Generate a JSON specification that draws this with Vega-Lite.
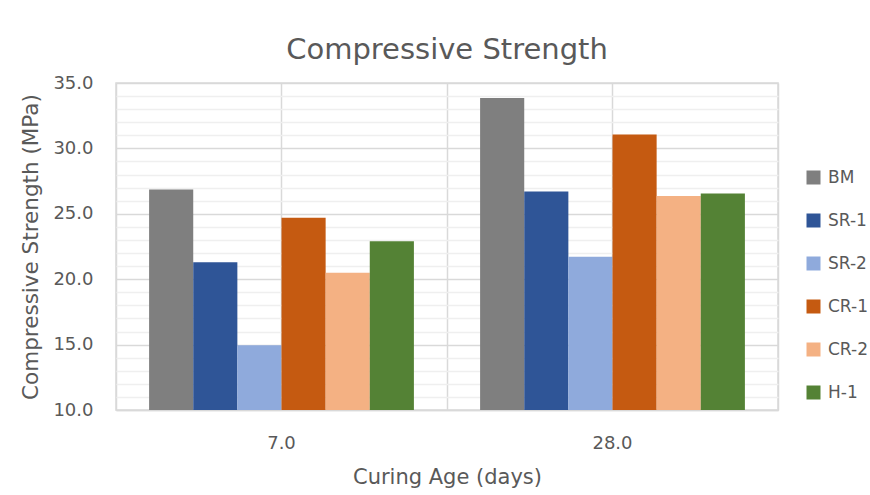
{
  "$schema": "https://vega.github.io/schema/vega-lite/v6.json",
  "width": 662,
  "height": 327,
  "autosize": "none",
  "padding": {"left": 116, "top": 83, "right": 92, "bottom": 85},
  "background": "white",
  "title": {
    "text": "Compressive Strength",
    "font": "DejaVu Sans",
    "fontSize": 29,
    "fontWeight": "normal",
    "color": "#595959",
    "anchor": "middle",
    "baseline": "alphabetic",
    "offset": 12,
    "dy": 26
  },
  "data": {
    "values": [
      {"age": "7.0", "series": "BM", "value": 26.85},
      {"age": "7.0", "series": "SR-1", "value": 21.3},
      {"age": "7.0", "series": "SR-2", "value": 14.95},
      {"age": "7.0", "series": "CR-1", "value": 24.7},
      {"age": "7.0", "series": "CR-2", "value": 20.5},
      {"age": "7.0", "series": "H-1", "value": 22.9},
      {"age": "28.0", "series": "BM", "value": 33.85},
      {"age": "28.0", "series": "SR-1", "value": 26.7},
      {"age": "28.0", "series": "SR-2", "value": 21.72},
      {"age": "28.0", "series": "CR-1", "value": 31.06},
      {"age": "28.0", "series": "CR-2", "value": 26.36},
      {"age": "28.0", "series": "H-1", "value": 26.56}
    ]
  },
  "config": {
    "view": {"stroke": "#d9d9d9", "strokeWidth": 1.5},
    "font": "DejaVu Sans",
    "axis": {
      "labelFont": "DejaVu Sans",
      "titleFont": "DejaVu Sans",
      "labelColor": "#595959",
      "titleColor": "#595959",
      "titleFontWeight": "normal"
    }
  },
  "layer": [
    {
      "mark": {"type": "bar", "opacity": 0},
      "encoding": {
        "x": {
          "field": "age",
          "type": "nominal",
          "sort": ["7.0", "28.0"],
          "scale": {"paddingInner": 0, "paddingOuter": 0},
          "axis": {
            "orient": "top",
            "tickBand": "extent",
            "grid": true,
            "gridColor": "#d9d9d9",
            "gridWidth": 1.5,
            "labels": false,
            "ticks": false,
            "domain": false,
            "title": null
          }
        },
        "y": {
          "field": "value",
          "type": "quantitative",
          "scale": {"domain": [10, 35], "zero": false, "nice": false},
          "axis": {
            "orient": "right",
            "values": [11, 12, 13, 14, 16, 17, 18, 19, 21, 22, 23, 24, 26, 27, 28, 29, 31, 32, 33, 34],
            "grid": true,
            "gridColor": "#efefef",
            "gridWidth": 1.5,
            "labels": false,
            "ticks": false,
            "domain": false,
            "title": null
          }
        },
        "y2": {"datum": 10}
      }
    },
    {
      "mark": {"type": "bar"},
      "encoding": {
        "x": {
          "field": "age",
          "type": "nominal",
          "sort": ["7.0", "28.0"],
          "scale": {"paddingInner": 0, "paddingOuter": 0},
          "axis": {
            "orient": "bottom",
            "title": "Curing Age (days)",
            "titleFontSize": 21,
            "titlePadding": 14,
            "labelFontSize": 18,
            "labelAngle": 0,
            "labelPadding": 24,
            "ticks": false,
            "tickSize": 0,
            "domain": true,
            "domainColor": "#d9d9d9",
            "domainWidth": 1.5,
            "grid": true,
            "gridColor": "#d9d9d9",
            "gridWidth": 1.5
          }
        },
        "xOffset": {
          "field": "series",
          "type": "nominal",
          "sort": ["BM", "SR-1", "SR-2", "CR-1", "CR-2", "H-1"],
          "scale": {"paddingInner": 0, "paddingOuter": 0.75}
        },
        "y": {
          "field": "value",
          "type": "quantitative",
          "scale": {"domain": [10, 35], "zero": false, "nice": false},
          "axis": {
            "orient": "left",
            "values": [10, 15, 20, 25, 30, 35],
            "format": ".1f",
            "title": "Compressive Strength (MPa)",
            "titleFontSize": 21.5,
            "titlePadding": 10,
            "labelFontSize": 18,
            "labelPadding": 23,
            "ticks": false,
            "tickSize": 0,
            "domain": false,
            "grid": true,
            "gridColor": "#d9d9d9",
            "gridWidth": 1.5
          }
        },
        "y2": {"datum": 10},
        "color": {
          "field": "series",
          "type": "nominal",
          "sort": ["BM", "SR-1", "SR-2", "CR-1", "CR-2", "H-1"],
          "scale": {
            "domain": ["BM", "SR-1", "SR-2", "CR-1", "CR-2", "H-1"],
            "range": ["#7f7f7f", "#2f5597", "#8faadc", "#c55a11", "#f4b183", "#548235"]
          },
          "legend": {
            "orient": "none",
            "legendX": 689,
            "legendY": 86,
            "title": null,
            "padding": 0,
            "symbolType": "square",
            "symbolSize": 196,
            "symbolStrokeWidth": 0,
            "symbolOpacity": 1,
            "labelFont": "DejaVu Sans",
            "labelFontSize": 17,
            "labelColor": "#595959",
            "labelOffset": 6,
            "rowPadding": 25
          }
        }
      }
    }
  ],
  "resolve": {"axis": {"x": "independent", "y": "independent"}}
}
